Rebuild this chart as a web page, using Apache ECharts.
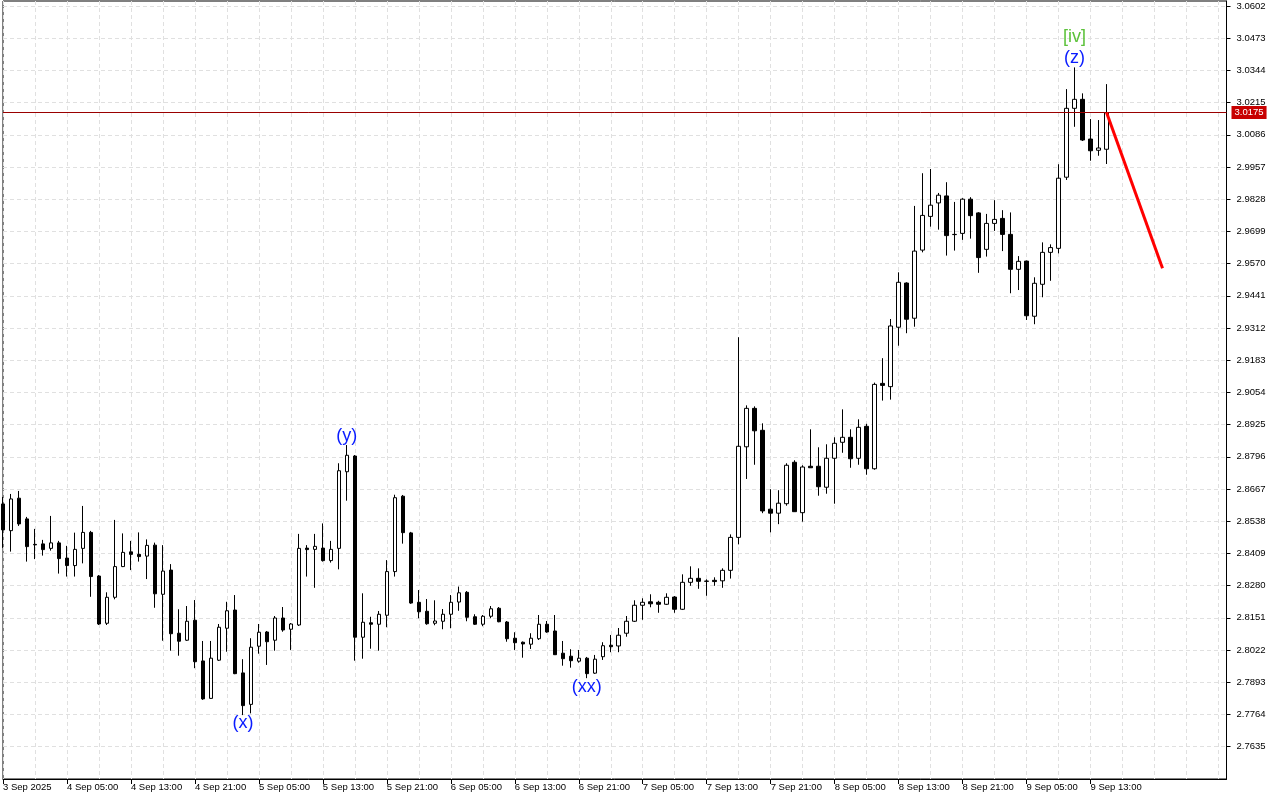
<!DOCTYPE html>
<html><head><meta charset="utf-8">
<script src="https://cdn.jsdelivr.net/npm/echarts@6/dist/echarts.min.js"></script>
<style>html,body{margin:0;padding:0;background:#fff}#c{width:1280px;height:800px}</style>
</head><body><div id="c"></div><script>
const tickLabels = ["3 Sep 2025","4 Sep 05:00","4 Sep 13:00","4 Sep 21:00","5 Sep 05:00","5 Sep 13:00","5 Sep 21:00","6 Sep 05:00","6 Sep 13:00","6 Sep 21:00","7 Sep 05:00","7 Sep 13:00","7 Sep 21:00","8 Sep 05:00","8 Sep 13:00","8 Sep 21:00","9 Sep 05:00","9 Sep 13:00"];
const yTicks = [3.0602,3.0473,3.0344,3.0215,3.0086,2.9957,2.9828,2.9699,2.9570,2.9441,2.9312,2.9183,2.9054,2.8925,2.8796,2.8667,2.8538,2.8409,2.8280,2.8151,2.8022,2.7893,2.7764,2.7635];

const opens = [
2.8607,2.8500,2.8630,2.8547,2.8445,2.8447,2.8429,2.8451,2.8390,2.8360,
2.8429,2.8493,2.8318,2.8129,2.8233,2.8356,2.8415,2.8405,2.8398,2.8442,
2.8245,2.8342,2.8089,2.8061,2.8141,2.7978,2.7828,2.7981,2.8109,2.8182,
2.7930,2.7804,2.8037,2.8094,2.8061,2.8150,2.8105,2.8122,2.8430,2.8425,
2.8430,2.8380,2.8429,2.8736,2.8799,2.8073,2.8131,2.8125,2.8161,2.8336,
2.8638,2.8491,2.8213,2.8177,2.8129,2.8137,2.8165,2.8214,2.8253,2.8155,
2.8125,2.8157,2.8189,2.8134,2.8069,2.8053,2.8045,2.8067,2.8125,2.8098,
2.8009,2.7997,2.7977,2.7989,2.7929,2.7995,2.8041,2.8038,2.8089,2.8137,
2.8201,2.8215,2.8213,2.8205,2.8234,2.8185,2.8293,2.8309,2.8298,2.8301,
2.8299,2.8341,2.8473,2.8836,2.8990,2.8902,2.8586,2.8570,2.8608,2.8774,
2.8572,2.8758,2.8758,2.8674,2.8790,2.8854,2.8874,2.8790,2.8918,2.8748,
2.9090,2.9077,2.9315,2.9492,2.9351,2.9624,2.9759,2.9813,2.9841,2.9687,
2.9691,2.9828,2.9773,2.9627,2.9731,2.9751,2.9687,2.9547,2.9580,2.9359,
2.9487,2.9615,2.9631,2.9916,3.0192,3.0228,3.0069,3.0024,3.0028];
const closes = [
2.8503,2.8627,2.8527,2.8436,2.8443,2.8424,2.8451,2.8388,2.8360,2.8425,
2.8493,2.8316,2.8126,2.8233,2.8356,2.8413,2.8405,2.8396,2.8441,2.8247,
2.8338,2.8087,2.8057,2.8137,2.7975,2.7826,2.7989,2.8113,2.8179,2.7927,
2.7799,2.8033,2.8093,2.8055,2.8150,2.8102,2.8126,2.8429,2.8424,2.8437,
2.8380,2.8425,2.8740,2.8802,2.8073,2.8133,2.8125,2.8165,2.8336,2.8632,
2.8492,2.8210,2.8175,2.8127,2.8138,2.8165,2.8213,2.8251,2.8153,2.8125,
2.8157,2.8187,2.8135,2.8067,2.8051,2.8046,2.8069,2.8125,2.8094,2.8003,
2.7987,2.7979,2.7989,2.7927,2.7985,2.8039,2.8035,2.8081,2.8137,2.8201,
2.8213,2.8207,2.8205,2.8233,2.8185,2.8293,2.8309,2.8297,2.8297,2.8296,
2.8341,2.8473,2.8838,2.8990,2.8900,2.8579,2.8570,2.8610,2.8762,2.8576,
2.8755,2.8752,2.8676,2.8790,2.8850,2.8874,2.8788,2.8914,2.8748,2.9086,
2.9082,2.9320,2.9495,2.9347,2.9620,2.9763,2.9804,2.9844,2.9682,2.9686,
2.9828,2.9762,2.9594,2.9731,2.9747,2.9687,2.9547,2.9579,2.9361,2.9491,
2.9615,2.9634,2.9912,3.0192,3.0228,3.0065,3.0022,3.0033,3.0175];
const highs = [
2.8635,2.8647,2.8659,2.8555,2.8507,2.8463,2.8559,2.8459,2.8439,2.8492,
2.8599,2.8499,2.8322,2.8253,2.8543,2.8489,2.8459,2.8493,2.8465,2.8452,
2.8442,2.8366,2.8185,2.8198,2.8222,2.8058,2.8058,2.8126,2.8215,2.8242,
2.7985,2.8069,2.8126,2.8098,2.8158,2.8194,2.8130,2.8487,2.8442,2.8487,
2.8529,2.8459,2.8770,2.8843,2.8803,2.8249,2.8155,2.8178,2.8382,2.8644,
2.8643,2.8495,2.8262,2.8226,2.8221,2.8186,2.8242,2.8276,2.8258,2.8165,
2.8162,2.8198,2.8194,2.8138,2.8093,2.8056,2.8089,2.8162,2.8138,2.8162,
2.8058,2.8025,2.8022,2.7994,2.8002,2.8053,2.8082,2.8110,2.8158,2.8221,
2.8229,2.8245,2.8219,2.8249,2.8238,2.8325,2.8357,2.8349,2.8305,2.8313,
2.8349,2.8485,2.9275,2.9002,2.8998,2.8930,2.8666,2.8662,2.8770,2.8782,
2.8762,2.8906,2.8834,2.8846,2.8874,2.8986,2.8906,2.8946,2.8928,2.9093,
2.9191,2.9348,2.9535,2.9495,2.9801,2.9932,2.9949,2.9853,2.9896,2.9817,
2.9832,2.9836,2.9776,2.9769,2.9824,2.9784,2.9775,2.9600,2.9582,2.9515,
2.9655,2.9647,2.9968,3.0269,3.0356,3.0252,3.0149,3.0145,3.0289];
const lows = [
2.8431,2.8416,2.8519,2.8376,2.8386,2.8400,2.8420,2.8328,2.8316,2.8316,
2.8369,2.8235,2.8122,2.8122,2.8225,2.8354,2.8342,2.8376,2.8306,2.8191,
2.8059,2.8019,2.7999,2.8058,2.7949,2.7822,2.7826,2.7978,2.8015,2.7925,
2.7761,2.7768,2.8007,2.7962,2.8019,2.8095,2.8022,2.8118,2.8316,2.8271,
2.8376,2.8372,2.8345,2.8620,2.7979,2.7987,2.8027,2.8019,2.8113,2.8316,
2.8448,2.8207,2.8149,2.8123,2.8121,2.8105,2.8109,2.8179,2.8137,2.8122,
2.8117,2.8149,2.8133,2.8055,2.8022,2.7991,2.8026,2.8062,2.8091,2.8002,
2.7959,2.7951,2.7971,2.7909,2.7926,2.7982,2.8013,2.8013,2.8075,2.8134,
2.8143,2.8193,2.8171,2.8202,2.8171,2.8182,2.8279,2.8267,2.8239,2.8279,
2.8271,2.8308,2.8445,2.8707,2.8764,2.8570,2.8493,2.8526,2.8600,2.8575,
2.8536,2.8751,2.8640,2.8648,2.8608,2.8812,2.8752,2.8764,2.8724,2.8744,
2.9021,2.9025,2.9241,2.9291,2.9317,2.9615,2.9718,2.9706,2.9602,2.9622,
2.9665,2.9670,2.9533,2.9598,2.9701,2.9620,2.9451,2.9464,2.9344,2.9327,
2.9435,2.9501,2.9611,2.9905,3.0118,3.0061,2.9982,3.0002,2.9969];

const lastPrice = 3.0175;
const projIndex = [138, 145];
const projValue = [3.0175, 2.9551];
const waveText = ["(x)", "(y)", "(xx)", "(z)", "[iv]"];
const waveIndex = [30, 43, 73, 134, 134];
const waveValue = [2.7729, 2.8879, 2.7874, 3.0394, 3.0478];
const waveColor = ["#0a1cff", "#0a1cff", "#0a1cff", "#0a1cff", "#5cc23a"];

const slotCount = 154;
const startTime = Date.UTC(2025, 8, 3, 21);
const categories = [];
for (let i = 0; i < slotCount; i++) {
  const d = new Date(startTime + i * 3600000);
  categories.push(d.getUTCDate() + " Sep " + String(d.getUTCHours()).padStart(2, "0") + ":00");
}
const candleData = opens.map((o, i) => [o, closes[i], lows[i], highs[i]]);

const FONT = "'Liberation Sans',Arial,sans-serif";
const labelTick = (i) => i % 8 === 0 && i / 8 < tickLabels.length;

const chart = echarts.init(document.getElementById('c'), null, {renderer: 'canvas'});
chart.setOption({
  animation: false,
  backgroundColor: '#fff',
  grid: {left: 2.5, right: 53.5, top: 1, bottom: 21, show: true, borderColor: '#000', borderWidth: 1, backgroundColor: '#fff'},
  xAxis: {
    type: 'category', data: categories, boundaryGap: false,
    axisLine: {show: true, lineStyle: {color: '#000', width: 1}},
    axisTick: {show: true, interval: labelTick, length: 5, lineStyle: {color: '#000'}},
    axisLabel: {interval: labelTick, formatter: (v, i) => tickLabels[i / 8] || '', align: 'left', margin: 3,
      color: '#000', fontSize: 9.5, fontFamily: FONT},
    splitLine: {show: true, interval: (i) => i % 4 === 0, lineStyle: {color: '#e0e0e0', type: [4, 3], width: 1}}
  },
  yAxis: {
    type: 'value', position: 'right', min: 2.7505, max: 3.0622,
    axisLine: {show: true, lineStyle: {color: '#000', width: 1}},
    axisTick: {show: true, length: 4, customValues: yTicks, lineStyle: {color: '#000'}},
    axisLabel: {customValues: yTicks, formatter: (v) => Number(v).toFixed(4), margin: 10,
      color: '#000', fontSize: 9.5, fontFamily: FONT},
    splitLine: {show: false}
  },
  series: [
    {
      type: 'candlestick', data: candleData, barWidth: 4, z: 3,
      itemStyle: {color: '#fff', color0: '#000', borderColor: '#000', borderColor0: '#000', borderWidth: 1},
      emphasis: {disabled: true},
      markLine: {
        silent: true, symbol: ['none', 'none'], z: 1, precision: 4, label: {show: false},
        lineStyle: {color: '#e0e0e0', type: [4, 3], width: 1},
        data: yTicks.map(v => ({yAxis: v}))
      }
    },
    {
      type: 'line', data: projIndex.map((x, k) => [x, projValue[k]]), symbol: 'none', z: 5,
      lineStyle: {color: '#ff0000', width: 3},
      markLine: {
        silent: true, symbol: ['none', 'none'], z: 4, precision: 4,
        lineStyle: {color: '#9a0000', width: 1, type: 'solid'},
        label: {show: true, position: 'end', formatter: (p) => Number(p.value).toFixed(4),
          backgroundColor: '#c80000', color: '#fff', padding: [2, 3, 1, 3], distance: 5,
          fontSize: 9.5, fontFamily: FONT},
        data: [{yAxis: lastPrice}]
      }
    },
    {
      type: 'scatter', symbolSize: 0, z: 6, silent: true,
      itemStyle: {opacity: 1},
      data: waveIndex.map((x, k) => ({value: [x, waveValue[k]],
        label: {formatter: waveText[k], color: waveColor[k]}})),
      label: {show: true, position: 'inside', fontSize: 18, fontFamily: FONT}
    }
  ]
});
</script></body></html>
